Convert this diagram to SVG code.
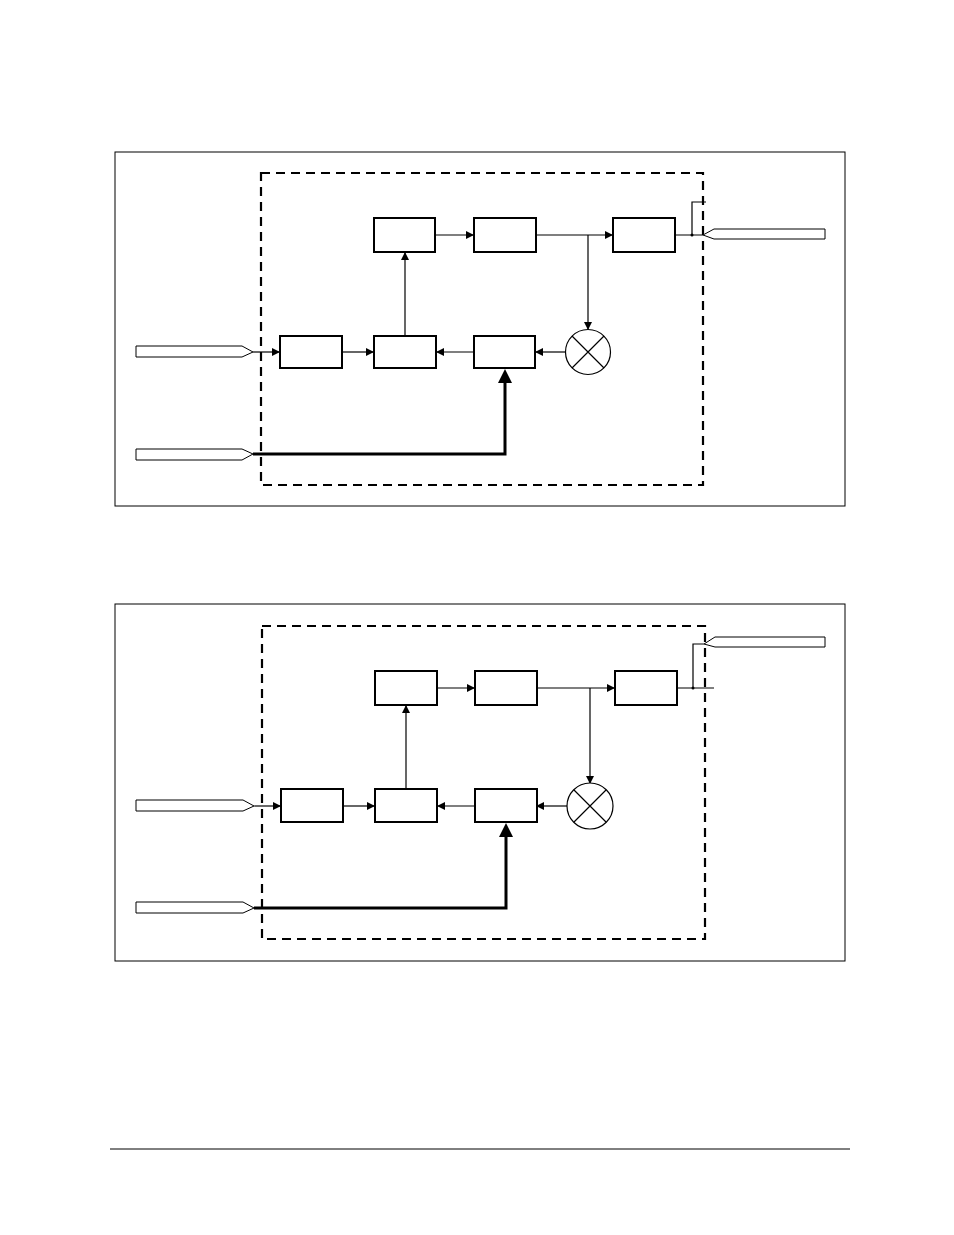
<svg xmlns="http://www.w3.org/2000/svg" width="954" height="1235" viewBox="0 0 954 1235">
<style>
.frame{fill:none;stroke:#000;stroke-width:1}
.dash{fill:none;stroke:#000;stroke-width:2.2;stroke-dasharray:9,6}
.box{fill:#fff;stroke:#000;stroke-width:2}
.ln{fill:none;stroke:#000;stroke-width:1.2}
.thick{fill:none;stroke:#000;stroke-width:3}
.tag{fill:#fff;stroke:#000;stroke-width:1}
</style>
<defs>
<marker id="a" markerWidth="8" markerHeight="8" refX="7" refY="4" orient="auto" markerUnits="userSpaceOnUse"><path d="M0,0L8,4L0,8Z"/></marker>
</defs>
<rect class="frame" x="115" y="152" width="730" height="354"/>
<rect class="dash" x="261" y="173" width="442" height="312"/>
<g id="connectors1">
<path class="ln" d="M253,352H279" marker-end="url(#a)"/>
<path class="ln" d="M342,352H373" marker-end="url(#a)"/>
<path class="ln" d="M474,352H437" marker-end="url(#a)"/>
<path class="ln" d="M566,352H536" marker-end="url(#a)"/>
<path class="ln" d="M405,336V253" marker-end="url(#a)"/>
<path class="ln" d="M435,235H473" marker-end="url(#a)"/>
<path class="ln" d="M536,235H612" marker-end="url(#a)"/>
<path class="ln" d="M588,235V329" marker-end="url(#a)"/>
<path class="ln" d="M675,235H703M692,235V202H706"/>
<circle cx="692" cy="235" r="1.5"/>
<path class="thick" d="M253,454H505V383"/>
<path d="M498,383L505,369L512,383Z"/>
</g>
<g id="n1"><rect class="box" x="374" y="218" width="61" height="34"/></g>
<g id="n2"><rect class="box" x="474" y="218" width="62" height="34"/></g>
<g id="n3"><rect class="box" x="613" y="218" width="62" height="34"/></g>
<g id="n4"><rect class="box" x="280" y="336" width="62" height="32"/></g>
<g id="n5"><rect class="box" x="374" y="336" width="62" height="32"/></g>
<g id="n6"><rect class="box" x="474" y="336" width="61" height="32"/></g>
<g id="n7"><circle cx="588" cy="352" r="22.5" fill="#fff" stroke="#000" stroke-width="1.2"/><path class="ln" d="M572,336L604,368M604,336L572,368"/></g>
<g id="t1"><polygon class="tag" points="136,346 242,346 253,352 242,357 136,357"/></g>
<g id="t2"><polygon class="tag" points="136,449 242,449 253,454 242,460 136,460"/></g>
<g id="t3"><polygon class="tag" points="703,235 714,229 825,229 825,239 714,239"/></g>

<rect class="frame" x="115" y="604" width="730" height="357"/>
<rect class="dash" x="262" y="626" width="443" height="313"/>
<g id="connectors2">
<path class="ln" d="M254,806H280" marker-end="url(#a)"/>
<path class="ln" d="M343,806H374" marker-end="url(#a)"/>
<path class="ln" d="M475,806H438" marker-end="url(#a)"/>
<path class="ln" d="M567,806H537" marker-end="url(#a)"/>
<path class="ln" d="M406,789V706" marker-end="url(#a)"/>
<path class="ln" d="M437,688H474" marker-end="url(#a)"/>
<path class="ln" d="M537,688H614" marker-end="url(#a)"/>
<path class="ln" d="M590,688V783" marker-end="url(#a)"/>
<path class="ln" d="M677,688H714M693,688V644H704"/>
<circle cx="693" cy="688" r="1.5"/>
<path class="thick" d="M254,908H506V837"/>
<path d="M499,837L506,823L513,837Z"/>
</g>
<g id="m1"><rect class="box" x="375" y="671" width="62" height="34"/></g>
<g id="m2"><rect class="box" x="475" y="671" width="62" height="34"/></g>
<g id="m3"><rect class="box" x="615" y="671" width="62" height="34"/></g>
<g id="m4"><rect class="box" x="281" y="789" width="62" height="33"/></g>
<g id="m5"><rect class="box" x="375" y="789" width="62" height="33"/></g>
<g id="m6"><rect class="box" x="475" y="789" width="62" height="33"/></g>
<g id="m7"><circle cx="590" cy="806" r="23" fill="#fff" stroke="#000" stroke-width="1.2"/><path class="ln" d="M574,790L606,822M606,790L574,822"/></g>
<g id="s1"><polygon class="tag" points="136,800 243,800 254,806 243,811 136,811"/></g>
<g id="s2"><polygon class="tag" points="136,902 243,902 254,908 243,913 136,913"/></g>
<g id="s3"><polygon class="tag" points="704,644 715,637 825,637 825,647 715,647"/></g>

<line x1="110" y1="1149" x2="850" y2="1149" stroke="#000" stroke-width="1"/>
</svg>
